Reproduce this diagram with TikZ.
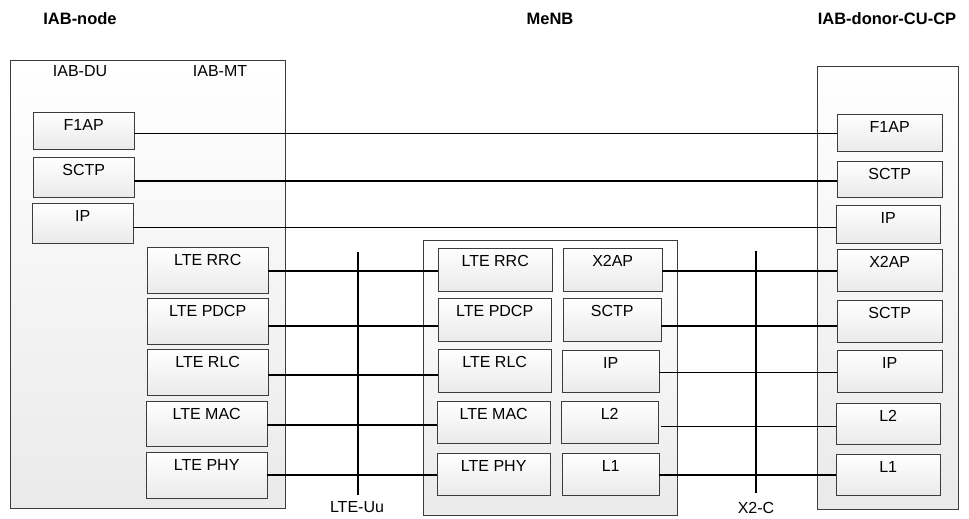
\documentclass[tikz,border=0pt]{standalone}
\usepackage{fontspec}
\setmainfont{Liberation Sans}
\usetikzlibrary{calc}

\definecolor{edge}{HTML}{3C3C3C}
\definecolor{shade}{HTML}{EAEAEA}

\begin{document}
\begin{tikzpicture}[x=1pt, y=-1pt,
		outer/.style={draw=edge, top color=white, bottom color=shade, anchor=north west, inner sep=0pt},
		lbl/.style={anchor=north, inner sep=0pt, yshift=-7.5pt, font=\fontsize{16}{19}\selectfont},
		layer/.style n args={3}{draw=edge, top color=white, bottom color=shade, anchor=north west, inner sep=0pt,
			minimum width=#1, minimum height=#2, label={[lbl]north:#3}},
		txt/.style={inner sep=0pt, font=\fontsize{16}{19}\selectfont},
		head/.style={inner sep=0pt, font=\fontsize{16.5}{19}\selectfont\bfseries},
		thinlink/.style={line width=1.1pt},
		boldlink/.style={line width=2pt}]
			\useasboundingbox (0,0) rectangle (969,519);

			\node[head] (t-iab) at (80,19) {IAB-node};
			\node[head] (t-menb) at (550,19) {MeNB};
			\node[head] (t-donor) at (887,19) {IAB-donor-CU-CP};

			\node[outer, minimum width=275, minimum height=448] (iab) at (10,60) {};
			\node[outer, minimum width=254, minimum height=275] (menb) at (423,240) {};
			\node[outer, minimum width=141, minimum height=443] (donor) at (817,66) {};

			\node[txt] (du-lbl) at (80,71) {IAB-DU};
			\node[txt] (mt-lbl) at (220,71) {IAB-MT};

			\node[layer={101}{37}{F1AP}] (du-f1ap) at (33,112) {};
			\node[layer={101}{40}{SCTP}] (du-sctp) at (33,157) {};
			\node[layer={101}{40}{IP}] (du-ip) at (32,203) {};

			\node[layer={121}{46}{LTE RRC}] (mt-rrc) at (147,247) {};
			\node[layer={121}{46}{LTE PDCP}] (mt-pdcp) at (147,298) {};
			\node[layer={121}{46}{LTE RLC}] (mt-rlc) at (147,349) {};
			\node[layer={121}{45}{LTE MAC}] (mt-mac) at (146,401) {};
			\node[layer={121}{46}{LTE PHY}] (mt-phy) at (146,452) {};

			\node[layer={114}{43}{LTE RRC}] (nb-rrc) at (438,248) {};
			\node[layer={113}{43}{LTE PDCP}] (nb-pdcp) at (438,298) {};
			\node[layer={113}{43}{LTE RLC}] (nb-rlc) at (438,349) {};
			\node[layer={113}{42}{LTE MAC}] (nb-mac) at (437,401) {};
			\node[layer={113}{42}{LTE PHY}] (nb-phy) at (437,453) {};

			\node[layer={99}{43}{X2AP}] (nb-x2ap) at (563,248) {};
			\node[layer={98}{43}{SCTP}] (nb-sctp) at (563,298) {};
			\node[layer={97}{42}{IP}] (nb-ip) at (562,350) {};
			\node[layer={97}{42}{L2}] (nb-l2) at (561,401) {};
			\node[layer={97}{42}{L1}] (nb-l1) at (562,453) {};

			\node[layer={105}{37}{F1AP}] (cu-f1ap) at (837,114) {};
			\node[layer={105}{36}{SCTP}] (cu-sctp) at (837,161) {};
			\node[layer={104}{38}{IP}] (cu-ip) at (836,205) {};
			\node[layer={105}{42}{X2AP}] (cu-x2ap) at (837,249) {};
			\node[layer={105}{42}{SCTP}] (cu-sctp2) at (837,300) {};
			\node[layer={105}{42}{IP}] (cu-ip2) at (837,350) {};
			\node[layer={104}{41}{L2}] (cu-l2) at (836,403) {};
			\node[layer={104}{41}{L1}] (cu-l1) at (836,454) {};

			\foreach \a/\b/\d/\w in {du-f1ap/cu-f1ap/2.5/thinlink, du-sctp/cu-sctp/4/boldlink, du-ip/cu-ip/4/thinlink,
					mt-rrc/nb-rrc/1/boldlink, mt-pdcp/nb-pdcp/5/boldlink, mt-rlc/nb-rlc/3/boldlink,
					mt-mac/nb-mac/1.5/boldlink, mt-phy/nb-phy/0/boldlink,
					nb-x2ap/cu-x2ap/1.5/boldlink, nb-sctp/cu-sctp2/6.5/boldlink, nb-ip/cu-ip2/1/thinlink,
					nb-l1/cu-l1/1/boldlink}
				\draw[\w] ($(\a.east)+(0,\d)$) -- ($(\a.east -| \b.west)+(0,\d)$);
			\draw[thinlink] ($(nb-l2.east)+(3,4)$) -- ($(nb-l2.east -| cu-l2.west)+(0,4)$);

			\coordinate (uu-top) at (358,252);
			\coordinate (uu-bot) at (358,495);
			\coordinate (x2c-top) at (756,251);
			\coordinate (x2c-bot) at (756,493);
			\draw[boldlink] (uu-top) -- (uu-bot);
			\draw[boldlink] (x2c-top) -- (x2c-bot);
			\node[txt] (uu-lbl) at (357,507) {LTE-Uu};
			\node[txt] (x2c-lbl) at (756,508) {X2-C};
\end{tikzpicture}
\end{document}
